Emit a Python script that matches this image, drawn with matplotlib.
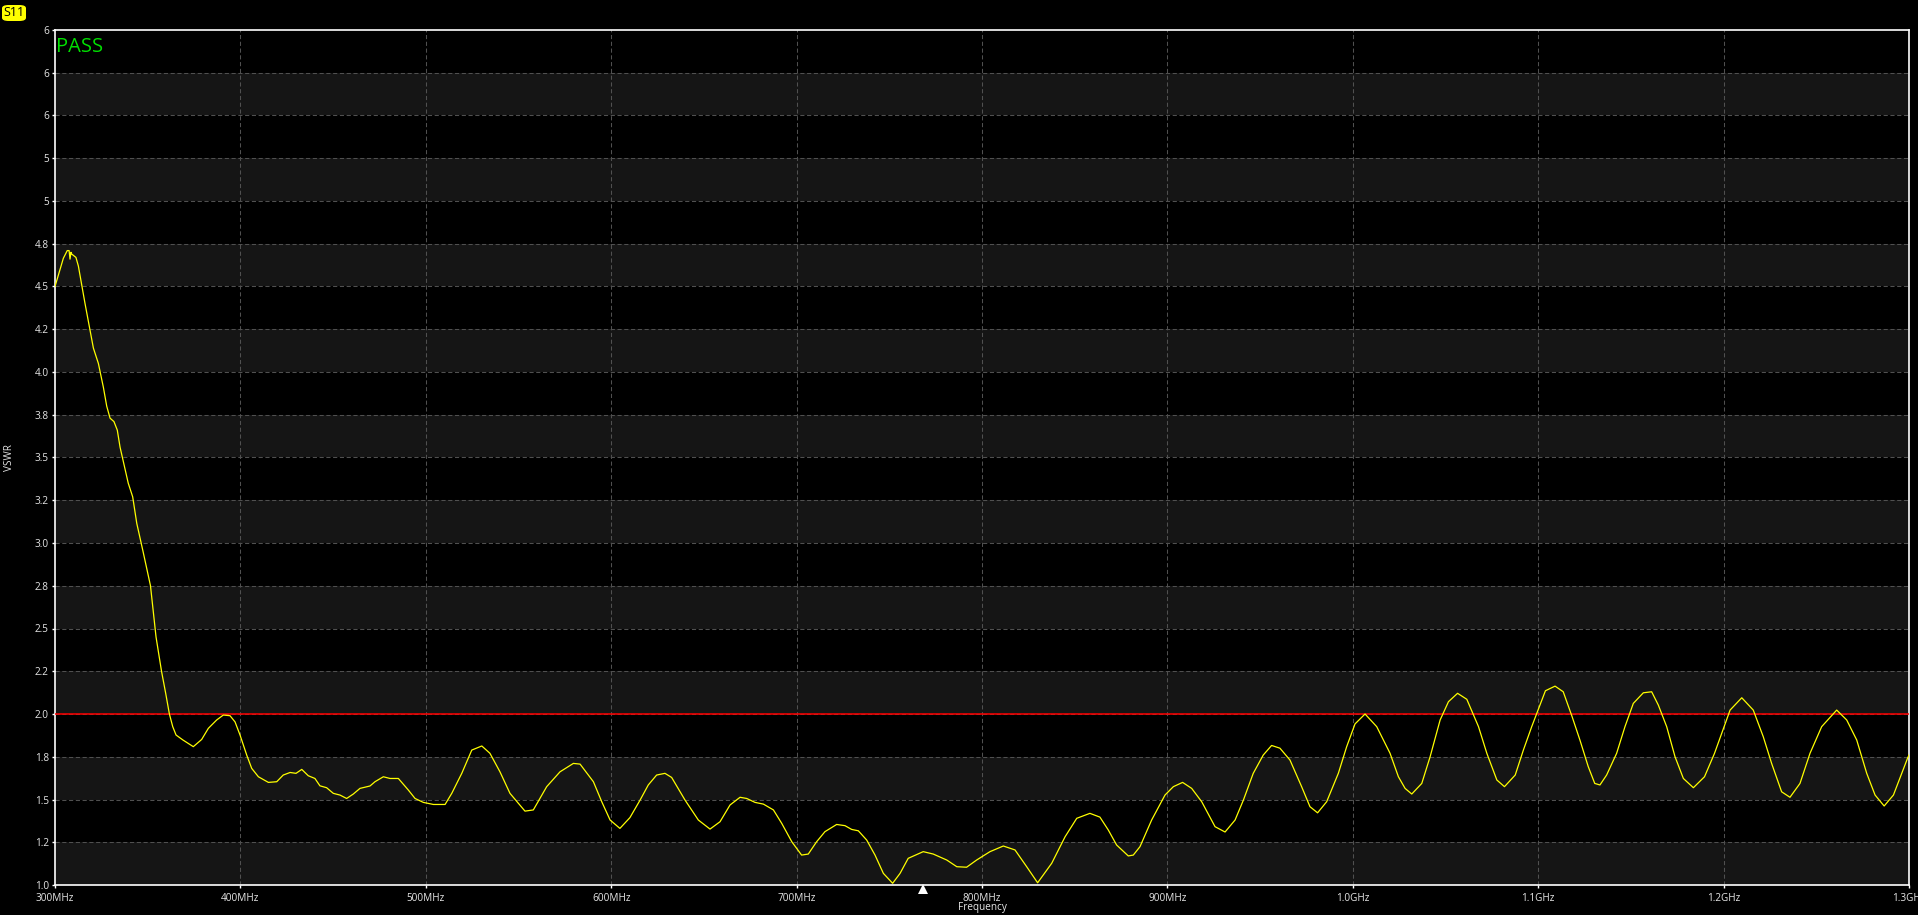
import matplotlib
matplotlib.use("Agg")
import matplotlib.pyplot as plt
from matplotlib.patches import FancyBboxPatch
import matplotlib.transforms as mtransforms

# ---------------- data ----------------
freq_mhz = [300.0, 302.7, 304.5, 306.6, 307.6, 308.1, 308.6, 309.0, 311.3, 312.6, 314.4, 316.2,
            318.9, 320.7, 323.4, 326.1, 327.9, 329.7, 331.8, 333.6, 335.1, 337.8, 339.5, 341.9,
            344.1, 347.5, 351.5, 354.5, 357.5, 359.7, 361.7, 363.5, 365.3, 369.0, 374.6, 379.1,
            382.7, 387.2, 390.8, 394.4, 397.1, 399.8, 403.4, 406.1, 409.7, 415.1, 419.6, 423.1,
            426.8, 430.0, 433.1, 436.6, 440.2, 442.9, 446.5, 450.1, 453.7, 457.3, 460.9, 464.5,
            469.9, 472.6, 477.1, 480.7, 485.2, 490.6, 494.2, 498.7, 504.1, 510.4, 514.0, 519.4,
            524.8, 530.2, 534.6, 540.0, 545.4, 553.5, 558.0, 565.2, 572.4, 579.6, 583.2, 590.4,
            594.9, 599.4, 604.7, 610.1, 615.5, 620.0, 624.5, 629.0, 632.6, 639.8, 647.0, 653.3,
            658.7, 664.1, 669.5, 673.1, 677.6, 682.1, 687.5, 692.0, 697.4, 702.7, 706.3, 710.8,
            715.3, 721.6, 726.1, 729.7, 733.3, 737.8, 742.3, 746.8, 751.8, 755.8, 760.2, 768.3,
            773.7, 781.0, 786.4, 791.7, 797.1, 804.3, 811.5, 817.8, 824.1, 830.0, 837.6, 844.8,
            851.1, 858.2, 863.6, 868.1, 872.6, 878.9, 881.6, 885.2, 891.5, 898.7, 903.2, 908.2,
            913.1, 918.5, 925.7, 931.1, 936.5, 941.0, 946.3, 951.7, 956.2, 960.7, 966.1, 972.4,
            976.9, 981.0, 985.9, 992.2, 996.7, 1001.2, 1006.6, 1012.9, 1020.1, 1024.6, 1028.2,
            1031.8, 1037.2, 1041.7, 1047.1, 1051.6, 1056.5, 1061.5, 1067.8, 1072.3, 1077.7,
            1081.8, 1087.6, 1092.0, 1096.5, 1101.3, 1103.9, 1109.1, 1113.5, 1118.3, 1122.5,
            1127.0, 1130.5, 1133.3, 1136.9, 1142.3, 1146.8, 1151.3, 1156.7, 1161.2, 1164.8,
            1169.3, 1173.8, 1178.3, 1183.7, 1189.7, 1195.1, 1199.6, 1203.5, 1209.8, 1216.0,
            1221.4, 1225.9, 1231.3, 1235.8, 1241.2, 1246.6, 1252.9, 1261.0, 1266.4, 1271.8,
            1277.2, 1281.7, 1286.6, 1291.6, 1299.2, 1300.0]
vswr = [4.50, 4.60, 4.665, 4.71, 4.71, 4.66, 4.70, 4.69, 4.67, 4.62, 4.51, 4.40,
        4.245, 4.14, 4.05, 3.91, 3.80, 3.73, 3.71, 3.66, 3.56, 3.43, 3.35, 3.27,
        3.115, 2.95, 2.75, 2.45, 2.247, 2.121, 2.0, 1.926, 1.877, 1.848, 1.809, 1.851,
        1.916, 1.965, 1.994, 1.99, 1.954, 1.877, 1.76, 1.682, 1.633, 1.60, 1.604, 1.643,
        1.658, 1.653, 1.676, 1.639, 1.623, 1.580, 1.569, 1.536, 1.526, 1.506, 1.532, 1.565,
        1.579, 1.604, 1.633, 1.623, 1.623, 1.555, 1.506, 1.483, 1.471, 1.471, 1.536, 1.653,
        1.789, 1.813, 1.770, 1.662, 1.536, 1.432, 1.439, 1.575, 1.662, 1.711, 1.707, 1.604,
        1.487, 1.380, 1.331, 1.394, 1.495, 1.585, 1.643, 1.653, 1.629, 1.497, 1.380, 1.327,
        1.370, 1.468, 1.513, 1.506, 1.483, 1.473, 1.439, 1.36, 1.253, 1.175, 1.181, 1.253,
        1.312, 1.354, 1.347, 1.325, 1.317, 1.263, 1.175, 1.068, 1.010, 1.068, 1.156, 1.195,
        1.181, 1.146, 1.107, 1.104, 1.146, 1.195, 1.228, 1.205, 1.107, 1.013, 1.127, 1.282,
        1.39, 1.419, 1.397, 1.322, 1.234, 1.170, 1.175, 1.224, 1.380, 1.526, 1.575, 1.60,
        1.565, 1.487, 1.341, 1.31, 1.38, 1.497, 1.653, 1.76, 1.816, 1.80, 1.731, 1.575,
        1.458, 1.422, 1.487, 1.653, 1.809, 1.942, 2.0, 1.926, 1.770, 1.633, 1.565,
        1.532, 1.594, 1.75, 1.965, 2.072, 2.121, 2.086, 1.926, 1.770, 1.614,
        1.575, 1.643, 1.789, 1.926, 2.062, 2.136, 2.163, 2.13, 1.984, 1.848,
        1.692, 1.594, 1.585, 1.643, 1.77, 1.926, 2.062, 2.124, 2.13, 2.052,
        1.926, 1.75, 1.623, 1.569, 1.633, 1.77, 1.906, 2.023, 2.095, 2.023,
        1.867, 1.711, 1.545, 1.513, 1.594, 1.770, 1.926, 2.023, 1.965, 1.848,
        1.653, 1.526, 1.462, 1.526, 1.741, 1.76]

limit_vswr = 2.0
marker_freq = 768.0

x_ticks = [300, 400, 500, 600, 700, 800, 900, 1000, 1100, 1200, 1300]
x_tick_labels = ["300MHz", "400MHz", "500MHz", "600MHz", "700MHz", "800MHz", "900MHz",
                 "1.0GHz", "1.1GHz", "1.2GHz", "1.3GHz"]
y_ticks = [1.0, 1.25, 1.5, 1.75, 2.0, 2.25, 2.5, 2.75, 3.0, 3.25, 3.5, 3.75, 4.0, 4.25,
           4.5, 4.75, 5.0, 5.25, 5.5, 5.75, 6.0]
y_tick_labels = ["1.0", "1.2", "1.5", "1.8", "2.0", "2.2", "2.5", "2.8", "3.0", "3.2", "3.5",
                 "3.8", "4.0", "4.2", "4.5", "4.8", "5", "5", "6", "6", "6"]

# ---------------- figure ----------------
plt.rcParams['font.family'] = ['Open Sans', 'DejaVu Sans']
W, H = 1918, 915
fig = plt.figure(figsize=(W / 100, H / 100), dpi=100, facecolor='black')
ax = fig.add_axes([55 / W, 30 / H, (1909 - 55) / W, (885 - 30) / H])
ax.set_facecolor('black')

ax.set_xlim(300, 1300)
ax.set_ylim(1.0, 6.0)

# alternating bands
for i in range(0, len(y_ticks) - 1, 2):
    ax.axhspan(y_ticks[i], y_ticks[i + 1], color='#151515', lw=0, zorder=0)

# grid
gcol = '#505050'
for yv in y_ticks[1:-1]:
    ax.axhline(yv, color=gcol, lw=0.75, ls=(0, (4, 2.5)), zorder=1)
for xv in x_ticks[1:-1]:
    ax.axvline(xv, color=gcol, lw=0.75, ls=(0, (4, 2.5)), zorder=1)

# limit line
ax.axhline(limit_vswr, color='#ff0000', lw=1.1, zorder=3)

# trace
ax.plot(freq_mhz, vswr, color='#ffff00', lw=0.9, zorder=4)

# marker triangle under axis
trans = mtransforms.blended_transform_factory(ax.transData, ax.transAxes)
ax.plot([marker_freq], [-0.0045], marker='^', color='white', markersize=6.5,
        transform=trans, clip_on=False, zorder=5, mew=0)

# spines
for s in ax.spines.values():
    s.set_color('white')
    s.set_linewidth(1.2)

ax.set_xticks(x_ticks)
ax.set_xticklabels(x_tick_labels)
ax.set_yticks(y_ticks)
ax.set_yticklabels(y_tick_labels)
ax.tick_params(axis='both', colors='white', labelcolor='#e6e6e6', labelsize=7.2,
               length=2.5, width=1, pad=2)
ax.tick_params(axis='x', pad=3)

ax.set_xlabel('Frequency', color='#e6e6e6', fontsize=7.2, labelpad=-1)
ax.set_ylabel('VSWR', color='#e6e6e6', fontsize=7.2, labelpad=14)

# PASS text
ax.text(0.0005, 0.992, 'PASS', transform=ax.transAxes, color='#00e000', fontsize=14.5,
        ha='left', va='top', zorder=6)

# S11 badge
badge = FancyBboxPatch((2 / W, 1 - 21 / H), 24 / W, 16 / H,
                       boxstyle='round,pad=0,rounding_size=0.0035',
                       transform=fig.transFigure, facecolor='#ffff00', edgecolor='none')
fig.patches.append(badge)
fig.text(14 / W, 1 - 13 / H, 'S11', color='black', fontsize=9, ha='center', va='center')

fig.savefig('out.png', dpi=100, facecolor='black')
